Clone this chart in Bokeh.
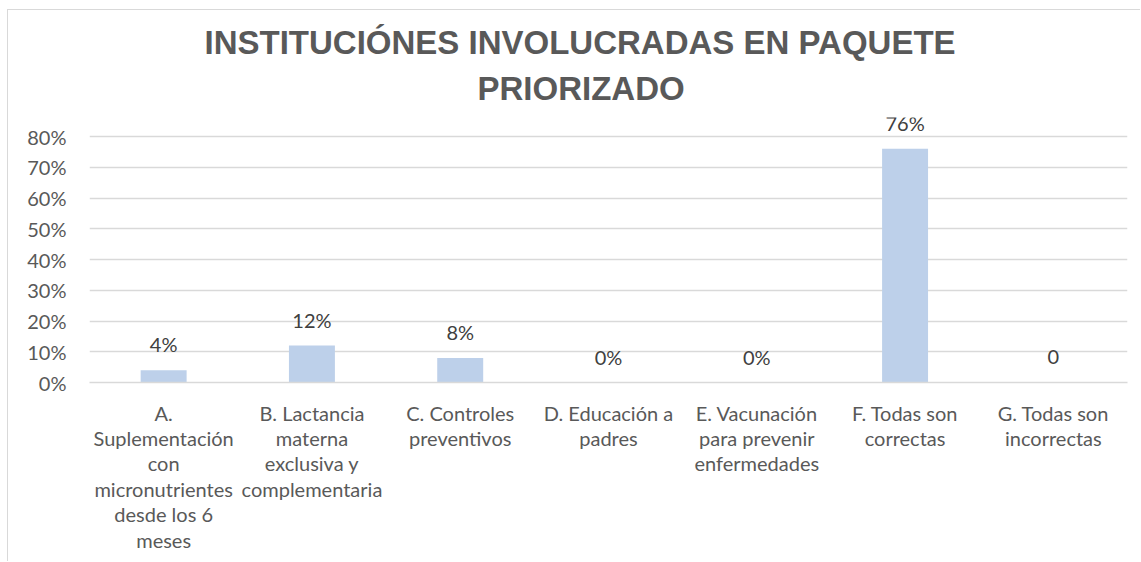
from bokeh.plotting import figure
from bokeh.models import FactorRange, Range1d, FixedTicker, NumeralTickFormatter, ColumnDataSource, Title
from bokeh.core.properties import value
from bokeh.embed import file_html
from bokeh.resources import INLINE

title_lines = ["INSTITUCIÓNES INVOLUCRADAS EN PAQUETE", "PRIORIZADO"]
categories = [
    "A.\nSuplementación\ncon\nmicronutrientes\ndesde los 6\nmeses",
    "B. Lactancia\nmaterna\nexclusiva y\ncomplementaria",
    "C. Controles\npreventivos",
    "D. Educación a\npadres",
    "E. Vacunación\npara prevenir\nenfermedades",
    "F. Todas son\ncorrectas",
    "G. Todas son\nincorrectas",
]
values = [0.04, 0.12, 0.08, 0.0, 0.0, 0.76, 0.0]
value_labels = ["4%", "12%", "8%", "0%", "0%", "76%", "0"]
y_ticks = [0, 0.1, 0.2, 0.3, 0.4, 0.5, 0.6, 0.7, 0.8]

src = ColumnDataSource(dict(cat=categories, val=values, lab=value_labels))

p = figure(
    frame_width=1038, frame_height=265,
    x_range=FactorRange(*categories, range_padding=0),
    y_range=Range1d(0, 0.8618),
    output_backend="svg", toolbar_location=None,
    min_border_left=81, min_border_right=13,
    min_border_top=107, min_border_bottom=179,
)
p.styles = {"border-left": "1px solid #D9D9D9", "border-top": "1px solid #D9D9D9",
            "margin-top": "9px", "margin-left": "7px"}
p.outline_line_color = None
p.background_fill_color = "white"

def add_title(txt, offset, standoff):
    t = Title(text=txt, align="left", offset=offset, standoff=standoff,
              text_font="Liberation Sans", text_font_style="bold",
              text_font_size="33px", text_color="#595959")
    p.add_layout(t, "above")

add_title(title_lines[1], 388, 22)
add_title(title_lines[0], 115, -8)

p.vbar(x="cat", top="val", width=0.31, source=src, fill_color="#BDD0EA", line_color=None)
p.text(x="cat", y="val", text="lab", source=src, text_align="center", text_baseline="alphabetic",
       y_offset=-26, text_font=value("Lato"), text_font_size="20px", text_color="#404040")

p.xgrid.grid_line_color = None
p.ygrid.grid_line_color = "#D9D9D9"
p.ygrid.grid_line_width = 1.5
p.ygrid.ticker = FixedTicker(ticks=y_ticks)

p.yaxis.ticker = FixedTicker(ticks=y_ticks)
p.yaxis.formatter = NumeralTickFormatter(format="0%")
p.yaxis.axis_line_color = None
p.yaxis.major_tick_line_color = None
p.yaxis.minor_tick_line_color = None
p.yaxis.major_label_standoff = 17
p.yaxis.major_label_text_font = "Lato"
p.yaxis.major_label_text_font_size = "20px"
p.yaxis.major_label_text_color = "#595959"

p.xaxis.axis_line_color = "#D9D9D9"
p.xaxis.axis_line_width = 1.5
p.xaxis.major_tick_line_color = None
p.xaxis.major_label_standoff = 12
p.xaxis.major_label_text_font = "Lato"
p.xaxis.major_label_text_font_size = "20px"
p.xaxis.major_label_text_color = "#595959"
p.xaxis.major_label_text_line_height = 1.06
p.xaxis.major_label_orientation = "horizontal"

open("out.html", "w").write(file_html(p, INLINE))
